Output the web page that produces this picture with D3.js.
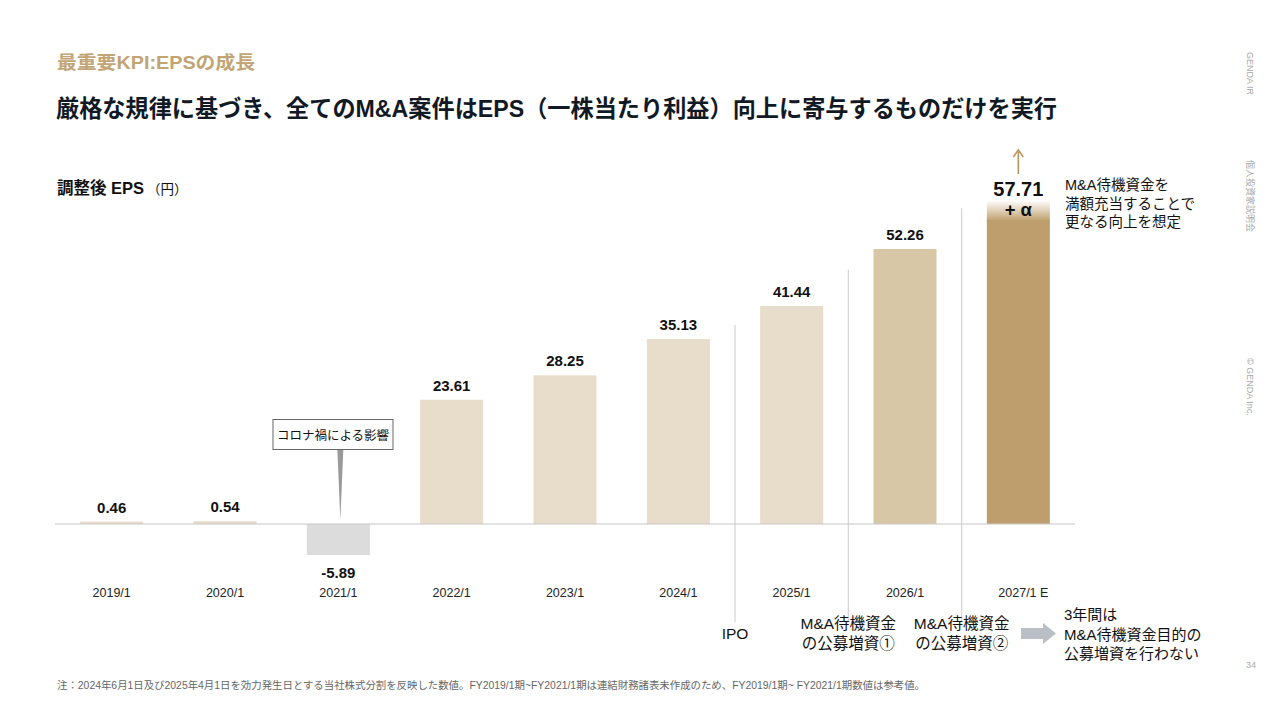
<!DOCTYPE html>
<meta charset="utf-8">
<script src="https://d3js.org/d3.v7.min.js"></script>
<style>
  body { margin: 0; background: #fff; }
  text { font-family: "Liberation Sans", "Noto Sans CJK JP", sans-serif; }
</style>
<svg id="chart" width="1280" height="720"></svg>
<script>

// data
var years = ["2019/1", "2020/1", "2021/1", "2022/1", "2023/1", "2024/1", "2025/1", "2026/1", "2027/1"];
var eps = [0.46, 0.54, -5.89, 23.61, 28.25, 35.13, 41.44, 52.26, 57.71];
var epsLabels = ["0.46", "0.54", "-5.89", "23.61", "28.25", "35.13", "41.44", "52.26", "57.71"];
// events placed after these bars (index), with their labels and line height in EPS units
var eventAfter = [5, 6, 7];
var eventLines = [["IPO"], ["M&A待機資金", "の公募増資①"], ["M&A待機資金", "の公募増資②"]];
var eventTop = [37.8, 48.3, 60];

var svg = d3.select("#chart");

// scales
var x = d3.scaleBand()
    .domain(years)
    .range([55, 1075])
    .paddingInner(0.444)
    .paddingOuter(0.222);

var y = d3.scaleLinear()
    .domain([0, 60])
    .range([524, 524 - 60 * 5.262]);

function barColor(d, i) {
  if (d < 0) return "#dcdcdc";
  if (i === years.length - 1) return "#be9e6c";
  if (i === years.length - 2) return "#d8c7a7";
  return "#e8dccb";
}

// headings
svg.append("text")
    .attr("x", 57).attr("y", 69)
    .attr("font-size", 18.5).attr("font-weight", "bold")
    .attr("fill", "#c2a574")
    .attr("textLength", 198).attr("lengthAdjust", "spacingAndGlyphs")
    .text("最重要KPI:EPSの成長");

svg.append("text")
    .attr("x", 56).attr("y", 117)
    .attr("font-size", 23.5).attr("font-weight", "bold")
    .attr("fill", "#111a24")
    .attr("textLength", 1001).attr("lengthAdjust", "spacingAndGlyphs")
    .text("厳格な規律に基づき、全てのM&A案件はEPS（一株当たり利益）向上に寄与するものだけを実行");

var sub = svg.append("text")
    .attr("x", 57).attr("y", 194)
    .attr("fill", "#111");
sub.append("tspan").attr("font-size", 16.5).attr("font-weight", "bold").text("調整後 EPS");
sub.append("tspan").attr("font-size", 13.5).attr("dx", 3).text("（円）");

// event separator lines
svg.selectAll(".sep")
  .data(eventAfter)
  .enter()
  .append("line")
    .attr("x1", function(d){ return x(years[d + 1]) - x.step() * x.paddingInner() / 2 })
    .attr("x2", function(d){ return x(years[d + 1]) - x.step() * x.paddingInner() / 2 })
    .attr("y1", function(d, i){ return y(eventTop[i]) })
    .attr("y2", 622)
    .attr("stroke", "#d4d4d4")
    .attr("stroke-width", 1.2);

// gradient for the "+α" extension
var grad = svg.append("defs").append("linearGradient")
    .attr("id", "fade").attr("x1", 0).attr("y1", 1).attr("x2", 0).attr("y2", 0);
grad.append("stop").attr("offset", "0%").attr("stop-color", "#be9e6c").attr("stop-opacity", 1);
grad.append("stop").attr("offset", "100%").attr("stop-color", "#be9e6c").attr("stop-opacity", 0);

// bars
svg.selectAll(".bar")
  .data(eps)
  .enter()
  .append("rect")
    .attr("x", function(d, i){ return x(years[i]) })
    .attr("width", x.bandwidth())
    .attr("y", function(d){ return y(Math.max(0, d)) })
    .attr("height", function(d){ return Math.max(Math.abs(y(d) - y(0)), 2.5) })
    .attr("fill", barColor);

var last = years.length - 1;
svg.append("rect")
    .attr("x", x(years[last]))
    .attr("width", x.bandwidth())
    .attr("y", y(eps[last]) - 20)
    .attr("height", 21)
    .attr("fill", "url(#fade)");

svg.append("text")
    .attr("x", x(years[last]) + x.bandwidth() / 2)
    .attr("y", y(eps[last]) - 4)
    .attr("text-anchor", "middle")
    .attr("font-size", 18.5).attr("font-weight", "bold")
    .attr("fill", "#111")
    .text("+ α");

// baseline
svg.append("line")
    .attr("x1", 55).attr("x2", 1075)
    .attr("y1", y(0)).attr("y2", y(0))
    .attr("stroke", "#c8c8c8").attr("stroke-width", 1.2);

// value labels
svg.selectAll(".val")
  .data(eps)
  .enter()
  .append("text")
    .attr("x", function(d, i){ return x(years[i]) + x.bandwidth() / 2 })
    .attr("y", function(d, i){
      if (d < 0) return y(d) + 23;
      if (i === last) return y(d) - 24;
      return y(d) - 9;
    })
    .attr("text-anchor", "middle")
    .attr("font-size", function(d, i){ return i === last ? 20 : 15 })
    .attr("font-weight", "bold")
    .attr("fill", "#111")
    .text(function(d, i){ return epsLabels[i] });

// category labels (x axis)
var xAxis = svg.append("g")
    .attr("transform", "translate(0," + 585 + ")")
    .call(d3.axisBottom(x).tickSize(0).tickFormat(function(d, i){ return i === last ? d + " E" : d }));
xAxis.select(".domain").remove();
xAxis.selectAll("text")
    .attr("font-size", 12.5)
    .attr("font-family", "'Liberation Sans', 'Noto Sans CJK JP', sans-serif")
    .attr("fill", "#222")
    .attr("dy", "0.71em")
    .attr("dx", function(d, i){ return i === last ? 5 : 0 });

// up arrow above the forecast bar
var ax = x(years[last]) + x.bandwidth() / 2;
svg.append("line")
    .attr("x1", ax).attr("x2", ax)
    .attr("y1", 174).attr("y2", 152)
    .attr("stroke", "#b8965f").attr("stroke-width", 1.6);
svg.append("path")
    .attr("d", "M" + (ax - 5) + ",157 L" + ax + ",150 L" + (ax + 5) + ",157")
    .attr("fill", "none").attr("stroke", "#b8965f").attr("stroke-width", 1.6);

// right note
var note = svg.append("text").attr("x", 1065).attr("y", 190).attr("font-size", 14.5).attr("fill", "#111");
["M&A待機資金を", "満額充当することで", "更なる向上を想定"].forEach(function(t, i){
  note.append("tspan").attr("x", 1065).attr("dy", i === 0 ? 0 : 18.5).text(t);
});

// callout for 2021
var cx = x(years[2]) + x.bandwidth() / 2 + 2;
svg.append("path")
    .attr("d", "M" + (cx - 3) + ",449 L" + (cx + 3) + ",449 L" + cx + "," + (y(0) - 4) + " Z")
    .attr("fill", "#9a9a9a");
svg.append("rect")
    .attr("x", 273).attr("y", 419.5).attr("width", 120).attr("height", 30)
    .attr("fill", "#fff").attr("stroke", "#666").attr("stroke-width", 1);
svg.append("text")
    .attr("x", 333).attr("y", 439.5)
    .attr("text-anchor", "middle")
    .attr("font-size", 12.5).attr("fill", "#111")
    .text("コロナ禍による影響");

// event labels below the axis
eventAfter.forEach(function(d, i){
  var ex = x(years[d + 1]) - x.step() * x.paddingInner() / 2;
  var lines = eventLines[i];
  var t = svg.append("text")
      .attr("text-anchor", "middle")
      .attr("font-size", 15.5).attr("fill", "#111");
  lines.forEach(function(s, j){
    t.append("tspan")
        .attr("x", ex)
        .attr("y", 639 - (lines.length - 1) * 10 + j * 20)
        .text(s);
  });
});

// grey arrow and closing note
svg.append("path")
    .attr("d", "M1021,628 L1043,628 L1043,623 L1056,633.5 L1043,644 L1043,639 L1021,639 Z")
    .attr("fill", "#b9bfc5");
var close = svg.append("text").attr("font-size", 15).attr("fill", "#111");
["3年間は", "M&A待機資金目的の", "公募増資を行わない"].forEach(function(s, j){
  close.append("tspan").attr("x", 1064).attr("y", 620 + j * 19.5).text(s);
});

// side texts
function sideText(t, y0) {
  svg.append("text")
      .attr("transform", "translate(1247," + y0 + ") rotate(90)")
      .attr("font-size", 9).attr("fill", "#a8a8a8")
      .text(t);
}
sideText("GENDA IR", 52);
sideText("個人投資家説明会", 160);
sideText("© GENDA Inc.", 358);

svg.append("text")
    .attr("x", 1256).attr("y", 668)
    .attr("text-anchor", "end")
    .attr("font-size", 9).attr("fill", "#a8a8a8")
    .text("34");

// footnote
svg.append("text")
    .attr("x", 57).attr("y", 689)
    .attr("font-size", 10.3).attr("fill", "#666")
    .attr("textLength", 868).attr("lengthAdjust", "spacingAndGlyphs")
    .text("注：2024年6月1日及び2025年4月1日を効力発生日とする当社株式分割を反映した数値。FY2019/1期~FY2021/1期は連結財務諸表未作成のため、FY2019/1期~ FY2021/1期数値は参考値。");

</script>
